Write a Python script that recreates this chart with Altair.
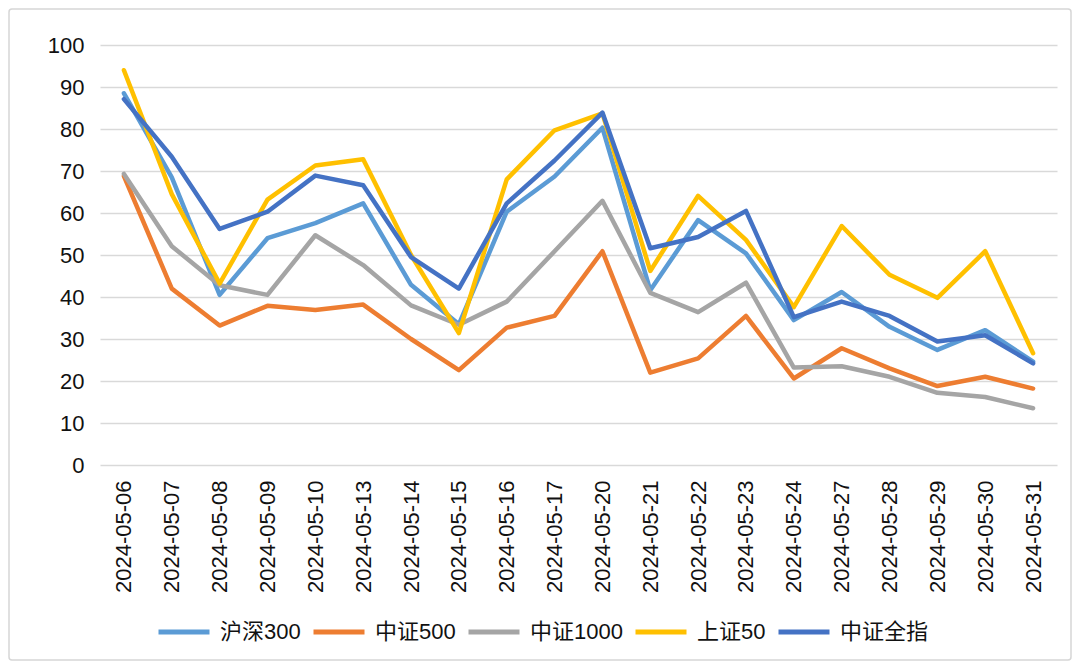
import altair as alt
import pandas as pd

dates = ["2024-05-06", "2024-05-07", "2024-05-08", "2024-05-09", "2024-05-10",
         "2024-05-13", "2024-05-14", "2024-05-15", "2024-05-16", "2024-05-17",
         "2024-05-20", "2024-05-21", "2024-05-22", "2024-05-23", "2024-05-24",
         "2024-05-27", "2024-05-28", "2024-05-29", "2024-05-30", "2024-05-31"]

series_names = ["沪深300", "中证500", "中证1000", "上证50", "中证全指"]
series_colors = ["#5B9BD5", "#ED7D31", "#A5A5A5", "#FFC000", "#4472C4"]

hs300 = [88.5, 68.5, 40.5, 54.0, 57.6, 62.3, 42.9, 33.5, 60.3, 68.7,
         80.3, 41.6, 58.3, 50.4, 34.5, 41.2, 32.9, 27.4, 32.1, 24.6]
zz500 = [68.8, 42.0, 33.2, 37.9, 36.9, 38.2, 30.0, 22.6, 32.7, 35.5,
         50.9, 22.0, 25.4, 35.5, 20.6, 27.8, 23.0, 18.8, 21.0, 18.2]
zz1000 = [69.3, 52.1, 42.8, 40.5, 54.7, 47.6, 38.0, 33.4, 38.9, 50.9,
          62.9, 41.0, 36.4, 43.4, 23.2, 23.5, 21.0, 17.2, 16.2, 13.5]
sz50 = [94.0, 64.5, 43.2, 63.2, 71.3, 72.8, 50.0, 31.4, 68.0, 79.7,
        83.7, 46.2, 64.1, 53.6, 37.6, 56.9, 45.3, 39.8, 50.9, 26.6]
zzqz = [87.1, 73.4, 56.2, 60.3, 68.9, 66.6, 49.5, 42.0, 62.3, 72.5,
        83.9, 51.6, 54.3, 60.5, 35.2, 38.9, 35.5, 29.4, 30.9, 24.2]

all_values = [hs300, zz500, zz1000, sz50, zzqz]

rows = []
for name, vals in zip(series_names, all_values):
    for d, v in zip(dates, vals):
        rows.append({"date": d, "series": name, "value": v})
df = pd.DataFrame(rows)

num_font = "Liberation Sans"
cjk_font = "Liberation Sans, Noto Sans CJK SC"

lines = alt.Chart(df).mark_line(strokeWidth=4.5, strokeJoin="round", strokeCap="round").encode(
    x=alt.X("date:N", sort=dates, scale=alt.Scale(type="point", padding=0.5),
            axis=alt.Axis(title=None, labelAngle=-90, ticks=False, domain=False, grid=False,
                          labelFont=num_font, labelFontSize=22, labelColor="#111111",
                          labelPadding=15)),
    y=alt.Y("value:Q", scale=alt.Scale(domain=[0, 100], nice=False),
            axis=alt.Axis(title=None, values=list(range(0, 101, 10)), ticks=False, domain=False,
                          grid=True, gridColor="#d9d9d9", gridWidth=1.5,
                          labelFont=num_font, labelFontSize=22, labelColor="#111111",
                          labelPadding=16)),
    color=alt.Color("series:N", sort=series_names,
                    scale=alt.Scale(domain=series_names, range=series_colors),
                    legend=alt.Legend(title=None, orient="none", direction="horizontal",
                                      legendX=56, legendY=559,
                                      symbolType="stroke", symbolSize=2601,
                                      symbolStrokeWidth=5, labelFont=cjk_font,
                                      labelFontSize=22, labelColor="#111111",
                                      labelOffset=8, columnPadding=2,
                                      symbolOffset=0)),
    order=alt.Order("date:N"),
)

frame_df = pd.DataFrame({"k": [0]})
frame = alt.Chart(frame_df).mark_rect(fill="transparent", stroke="#d6d6d6", strokeWidth=1.5,
                                      cornerRadius=3, clip=False).encode(
    x=alt.value(-91), x2=alt.value(971), y=alt.value(-36), y2=alt.value(615)
)

chart = alt.layer(frame, lines).properties(
    width=957, height=420,
    padding={"left": 92, "top": 37, "right": 15, "bottom": 196},
    autosize=alt.AutoSizeParams(type="none"),
).configure_view(stroke=None)

chart.save("out.html", embed_options={"renderer": "svg", "actions": False})
